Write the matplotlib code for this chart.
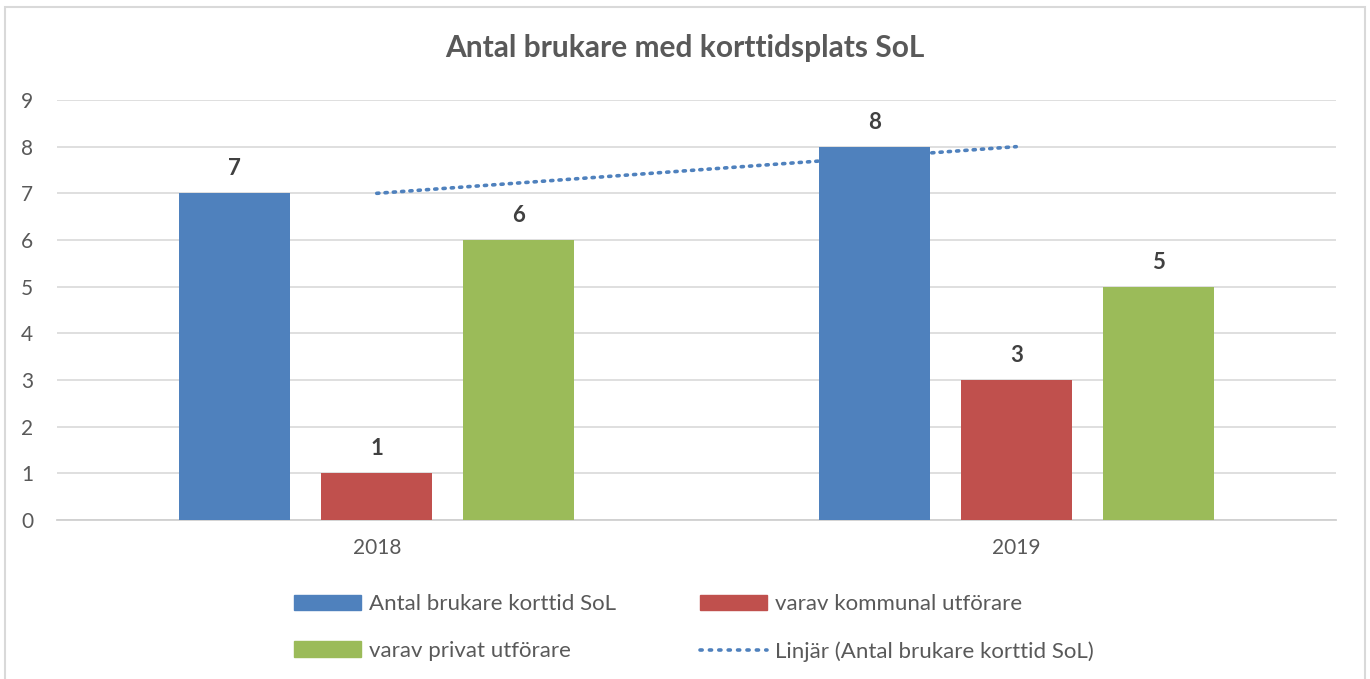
import matplotlib.pyplot as plt
import numpy as np
from matplotlib.patches import Patch, Rectangle
from matplotlib.lines import Line2D

years = ['2018', '2019']
antal = [7, 8]
kommunal = [1, 3]
privat = [6, 5]
series_names = ['Antal brukare korttid SoL', 'varav kommunal utförare', 'varav privat utförare']
trend_name = 'Linjär (Antal brukare korttid SoL)'

blue = '#4F81BD'
red = '#C0504D'
green = '#9BBB59'
txt = '#595959'
gridc = '#D9D9D9'

plt.rcParams['font.family'] = ['Lato', 'DejaVu Sans']

fig = plt.figure(figsize=(13.7, 6.79), dpi=100)
ax = fig.add_axes([57/1370, 1-520/679, (1336-57)/1370, 420/679])

x = np.arange(len(years))
w = 0.174
off = 0.222
for vals, c, dx in [(antal, blue, -off), (kommunal, red, 0), (privat, green, off)]:
    bars = ax.bar(x + dx, vals, width=w, color=c, zorder=3)
    for b, v in zip(bars, vals):
        ax.text(b.get_x() + b.get_width()/2, v + 0.3, str(v), ha='center', va='bottom',
                fontsize=16, fontweight='bold', color='#404040')

# linear trendline of first series
k, m = np.polyfit(x, antal, 1)
dots = (0, (0.6, 1.7))
ax.plot(x, k*x + m, color=blue, linestyle=dots, linewidth=2.6,
        dash_capstyle='round', zorder=2)

ax.set_xlim(-0.5, 1.5)
ax.set_ylim(0, 9)
ax.set_yticks(range(10))
ax.set_xticks(x)
ax.set_xticklabels(years)
ax.grid(axis='y', color=gridc, linewidth=1.2, zorder=0)
for s in ['top', 'right', 'left']:
    ax.spines[s].set_visible(False)
ax.spines['bottom'].set_color('#D0D0D0')
ax.spines['bottom'].set_linewidth(1.3)
ax.tick_params(length=0, labelsize=15, colors=txt)
ax.tick_params(axis='y', pad=17)
ax.tick_params(axis='x', pad=13)

fig.text(0.5, 1-48/679, 'Antal brukare med korttidsplats SoL', ha='center', va='center',
         fontsize=21.5, fontweight='bold', color=txt)

handles = [Patch(color=blue), Patch(color=green), Patch(color=red),
           Line2D([], [], color=blue, linestyle=(0, (0.6, 2.0)), linewidth=2.6, dash_capstyle='round')]
labels = [series_names[0], series_names[2], series_names[1], trend_name]
fig.legend(handles, labels, ncol=2, loc='center', bbox_to_anchor=(0.5065, 1-628/679),
           frameon=False, fontsize=16, labelcolor=txt, handlelength=3.0, handleheight=0.7,
           columnspacing=3.8, labelspacing=1.2, handletextpad=0.35)

fig.patches.append(Rectangle((5/1370, -0.01), 1360/1370, 1.01 - 7/679, transform=fig.transFigure,
                             fill=False, edgecolor=gridc, linewidth=1.5))

fig.savefig('out.png', dpi=100)
